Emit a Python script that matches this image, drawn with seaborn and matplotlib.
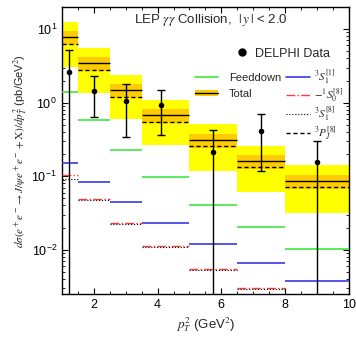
import numpy as np
import matplotlib
matplotlib.use("Agg")
import matplotlib.pyplot as plt
from matplotlib.lines import Line2D
from matplotlib.patches import Patch
from matplotlib.ticker import MultipleLocator
import seaborn as sns

# p_T^2 bins (GeV^2)
bin_edges = [1.0, 1.5, 2.5, 3.5, 5.0, 6.5, 8.0, 10.0]

# Theory predictions per bin (pb/GeV^2)
total = [7.79, 3.46, 1.487, 0.681, 0.312, 0.162, 0.0867]
total_scale_hi = [9.4, 4.17, 1.79, 0.821, 0.376, 0.195, 0.1045]
total_scale_lo = [6.07, 2.69, 1.158, 0.531, 0.243, 0.126, 0.0675]
total_band_hi = [12.4, 5.52, 2.38, 1.088, 0.514, 0.2585, 0.143]
total_band_lo = [3.05, 1.356, 0.601, 0.267, 0.118, 0.0614, 0.0318]
feeddown = [1.40, 0.582, 0.228, 0.098, 0.0409, 0.0206, 0.01035]
s1_singlet = [0.152, 0.084, 0.045, 0.0233, 0.0121, 0.00668, 0.00381]
s0_octet = [0.1045, 0.0493, 0.0233, 0.01137, 0.00554, 0.00306, 0.0017]
s1_octet = [0.092, 0.047, 0.0222, 0.0108, 0.0053, 0.0029, 0.0016]
pj_octet = [6.26, 2.78, 1.19, 0.547, 0.2585, 0.134, 0.0718]

# DELPHI measurements
data_x = [1.22, 2.0, 3.0, 4.1, 5.75, 7.25, 9.0]
data_y = [2.6, 1.44, 1.05, 0.93, 0.214, 0.41, 0.157]
data_err_up = [2.59, 0.86, 0.73, 0.55, 0.213, 0.29, 0.145]
data_err_dn = [2.599, 0.81, 0.71, 0.57, 0.2139, 0.292, 0.1569]

sns.set_theme(style="ticks")
plt.rcParams["font.family"] = ["Liberation Sans", "DejaVu Sans"]
plt.rcParams["mathtext.fontset"] = "stix"

fig = plt.figure(figsize=(3.56, 3.38), dpi=100)
ax = fig.add_axes([0.174, 0.130, 0.806, 0.849])
ax.set_yscale("log")

lo = np.array(bin_edges[:-1])
hi = np.array(bin_edges[1:])
width = hi - lo

yb_lo = np.array(total_band_lo)
yb_hi = np.array(total_band_hi)
ax.bar(lo, yb_hi - yb_lo, bottom=yb_lo, width=width, align="edge",
       color="#ffff00", linewidth=0, zorder=1)
ob_lo = np.array(total_scale_lo)
ob_hi = np.array(total_scale_hi)
ax.bar(lo, ob_hi - ob_lo, bottom=ob_lo, width=width, align="edge",
       color="#ffcc00", linewidth=0, zorder=2)

ax.hlines(total, lo, hi, color="black", lw=1.0, zorder=3)
ax.hlines(pj_octet, lo, hi, color="black", lw=1.0, linestyles=[(0, (3, 2))], zorder=3)
ax.hlines(feeddown, lo, hi, color="#3ee83e", lw=1.2, zorder=3)
ax.hlines(s1_singlet, lo, hi, color="#3a3ae6", lw=1.2, zorder=3)
ax.hlines(s0_octet, lo, hi, color="#ff3b3b", lw=1.0, linestyles="-.", zorder=3)
ax.hlines(s1_octet, lo, hi, color="black", lw=0.8, linestyles=":", zorder=3)

ax.errorbar(data_x, data_y, yerr=[data_err_dn, data_err_up], fmt="none",
            ecolor="black", elinewidth=1.0, capsize=3, capthick=1.0, zorder=4)
sns.scatterplot(x=data_x, y=data_y, ax=ax, color="black", s=16,
                edgecolor="black", linewidth=0, zorder=5, legend=False)

ax.set_xlim(1, 10)
ax.set_ylim(0.0025, 19.9)
ax.xaxis.set_major_locator(MultipleLocator(2))
ax.xaxis.set_minor_locator(MultipleLocator(0.5))
ax.tick_params(which="both", direction="in", top=True, right=True,
               labelsize=9, colors="black")
ax.tick_params(which="major", length=4, width=0.8)
ax.tick_params(which="minor", length=2, width=0.6)
for s in ax.spines.values():
    s.set_color("black")
    s.set_linewidth(1.0)

ax.set_xlabel(r"$p_T^2$ (GeV$^2$)", fontsize=9.5, labelpad=3)
ax.set_ylabel(r"$d\sigma\left(e^+e^-\to J/\psi e^+e^-+\mathrm{X}\right)/dp_T^2$ (pb/GeV$^2$)",
              fontsize=8, labelpad=1)

ax.text(0.52, 0.955, r"LEP $\gamma\gamma$ Collision,  $|\,y\,|$ < 2.0",
        transform=ax.transAxes, ha="center", va="center", fontsize=9.5)

leg1 = ax.legend([Line2D([], [], ls="none", marker="o", color="black", markersize=5)],
                 ["DELPHI Data"], loc="upper left", bbox_to_anchor=(0.585, 0.88),
                 frameon=False, fontsize=9, borderpad=0, handlelength=1.0,
                 handletextpad=0.5)
ax.add_artist(leg1)

leg2 = ax.legend([Line2D([], [], color="#3ee83e", lw=1.2),
                  (Patch(facecolor="#ffcc00", edgecolor="none"),
                   Line2D([], [], color="black", lw=1.0))],
                 ["Feeddown", "Total"], loc="upper left",
                 bbox_to_anchor=(0.446, 0.79), frameon=False, fontsize=8,
                 borderpad=0, handlelength=2.0, handleheight=0.5,
                 handletextpad=1.0, labelspacing=0.55)
ax.add_artist(leg2)

ax.legend([Line2D([], [], color="#3a3ae6", lw=1.2),
           Line2D([], [], color="#ff3b3b", lw=1.0, ls="-."),
           Line2D([], [], color="black", lw=0.8, ls=":"),
           Line2D([], [], color="black", lw=1.0, ls=(0, (3, 2)))],
          [r"${}^3S_1^{[1]}$", r"$-{}^1S_0^{[8]}$", r"${}^3S_1^{[8]}$", r"${}^3P_J^{[8]}$"],
          loc="upper left", bbox_to_anchor=(0.76, 0.81), frameon=False,
          fontsize=8, borderpad=0, handlelength=2.2, handletextpad=0.4,
          labelspacing=0.0)

fig.savefig("out.png", dpi=100)
